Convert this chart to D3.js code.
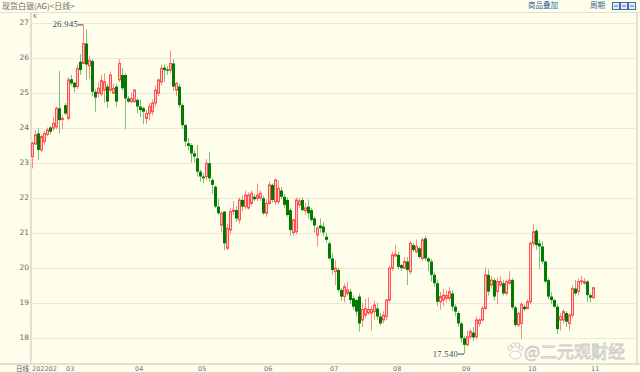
<!DOCTYPE html>
<html><head><meta charset="utf-8">
<script src="https://cdn.jsdelivr.net/npm/d3@7"></script>
<style>
html,body{margin:0;padding:0;background:#fefeea;}
svg{display:block;}
</style></head>
<body>
<svg id="chart" width="640" height="372"></svg>
<script>
// ---- data ----
const openVals = [23.17,23.53,23.83,23.36,23.6,23.8,24.0,23.98,24.02,24.55,24.24,24.64,24.26,25.38,25.28,25.17,25.88,25.83,26.4,25.76,
25.9,25.02,24.98,24.96,25.07,25.17,25.07,24.98,25.17,25.36,25.5,25.5,24.83,24.74,24.74,24.79,24.6,24.55,24.26,24.4,
24.45,24.7,24.98,25.3,25.71,25.66,25.64,25.83,25.07,25.17,24.64,24.07,23.55,23.5,23.26,23.12,22.74,22.6,22.6,22.98,
22.5,22.31,21.74,21.21,21.6,20.55,21.07,21.6,21.64,21.36,21.93,21.74,21.7,21.83,22.02,21.98,21.98,21.98,21.55,21.83,
22.36,21.88,21.88,22.2,22.02,21.93,21.64,21.0,21.02,21.79,21.93,21.62,21.74,21.64,21.4,20.93,21.2,21.17,20.88,20.69,
20.26,19.88,19.93,19.36,19.17,19.26,19.31,19.12,19.07,19.17,18.5,18.64,18.7,18.7,18.74,18.83,18.6,18.5,18.6,19.07,
19.98,20.33,20.36,20.07,19.98,20.17,19.88,20.64,20.45,20.55,20.26,20.83,20.26,20.17,19.79,19.55,19.02,19.07,19.12,19.12,
19.26,18.88,18.7,18.4,17.98,17.79,18.02,18.14,18.02,18.4,18.5,18.83,19.79,19.5,19.64,19.31,19.5,19.55,19.26,19.55,
19.64,18.86,18.36,18.4,18.88,18.83,19.02,20.69,21.05,20.69,20.6,20.17,19.64,19.17,19.07,18.88,18.5,18.5,18.7,18.4,
18.64,19.4,19.31,19.6,19.55,19.6,19.21,19.14];
const highVals = [23.6,23.93,23.98,23.8,23.9,24.0,24.05,24.3,24.6,25.62,24.35,24.7,25.45,25.5,25.3,25.8,26.1,26.945,26.8,26.05,
25.95,25.1,25.3,25.5,25.55,25.25,25.6,25.25,25.25,25.95,25.7,25.55,24.9,25.0,25.1,24.85,24.8,24.6,24.5,24.7,
24.8,25.2,25.4,25.8,25.8,25.75,26.2,25.95,25.3,25.25,24.7,24.1,23.7,23.55,23.35,23.5,22.8,22.7,23.1,23.3,
22.55,22.35,21.97,21.6,21.6,21.25,21.7,21.9,21.75,22.0,22.05,22.2,22.15,22.2,22.1,22.4,22.2,22.05,21.95,22.45,
22.4,22.55,22.5,22.3,22.1,22.0,21.7,21.4,22.0,22.0,22.0,21.85,21.95,21.7,21.45,21.2,21.4,21.3,21.0,20.75,
20.4,20.2,20.0,19.4,19.55,19.6,19.4,19.2,19.1,19.25,19.0,19.1,19.15,18.9,19.05,19.0,18.7,18.75,19.1,20.05,
20.45,20.65,20.45,20.1,20.3,20.3,20.75,20.7,20.8,20.6,20.85,20.9,20.3,20.25,19.85,19.65,19.3,19.4,19.35,19.45,
19.35,18.95,18.75,18.45,18.05,18.2,18.25,18.3,18.6,18.55,18.9,20.0,19.95,19.75,19.7,19.7,19.75,19.65,19.65,19.9,
19.7,18.9,18.75,19.0,18.95,19.1,20.75,21.24,21.1,20.8,20.75,20.2,19.7,19.3,19.1,18.95,18.7,18.8,18.75,18.7,
19.5,19.65,19.7,19.77,19.7,19.65,19.25,19.45];
const lowVals = [22.83,23.5,23.07,23.3,23.5,23.75,23.8,23.9,23.95,23.83,23.95,24.35,24.2,25.2,25.0,25.1,25.5,25.8,25.35,25.4,
24.9,24.45,24.85,24.9,24.7,24.55,25.0,24.95,24.6,25.3,25.05,23.95,24.7,24.7,24.7,24.4,24.3,24.1,24.1,24.2,
24.35,24.6,24.9,25.2,25.3,25.5,25.55,25.05,24.9,24.55,23.95,23.45,23.35,23.0,23.0,22.6,22.45,22.4,22.5,22.45,
22.1,21.7,21.5,21.0,20.5,20.5,20.95,21.5,21.3,21.25,21.6,21.65,21.65,21.75,21.9,21.9,21.9,21.5,21.45,21.8,
21.85,21.8,21.8,21.95,21.7,21.45,20.9,20.9,20.95,21.7,21.6,21.5,21.4,21.3,21.0,20.6,21.0,20.9,20.7,20.2,
19.8,19.5,19.3,19.05,19.0,19.2,18.95,18.8,18.6,18.17,18.3,18.55,18.65,18.2,18.5,18.5,18.35,18.4,18.5,19.0,
19.9,20.3,19.95,19.9,19.95,19.5,19.8,20.45,20.4,20.25,20.2,20.2,19.9,19.6,19.45,18.9,18.8,18.9,19.0,19.05,
18.75,18.6,18.3,17.85,17.54,17.75,17.95,17.9,17.95,18.3,18.45,18.8,19.2,19.4,19.05,18.95,19.45,19.2,19.2,19.5,
18.8,18.3,18.3,17.95,18.75,18.8,18.95,20.6,20.5,19.95,20.1,19.55,19.1,18.95,18.85,18.1,18.2,18.4,18.3,18.2,
18.55,19.2,19.2,19.5,19.5,19.0,19.0,19.1];
const closeVals = [23.55,23.79,23.36,23.74,23.83,23.93,23.88,24.12,24.55,24.21,24.26,24.4,25.36,25.26,25.15,25.69,25.64,26.4,25.8,25.92,
25.02,24.86,25.12,25.34,25.31,24.74,25.5,25.12,24.74,25.83,25.12,24.83,24.74,24.83,25.07,24.6,24.5,24.45,24.4,24.6,
24.7,25.07,25.36,25.69,25.64,25.62,25.83,25.17,25.26,24.64,24.07,23.6,23.47,23.26,23.17,22.74,22.6,22.55,22.98,22.55,
22.36,21.74,21.55,21.55,20.69,21.12,21.6,21.64,21.4,21.93,21.74,22.07,22.07,22.12,21.95,22.07,22.12,21.55,21.83,22.36,
21.93,22.5,22.26,22.02,21.79,21.5,21.07,21.36,21.93,21.9,21.64,21.7,21.55,21.36,21.2,21.12,21.12,21.0,20.79,20.26,
19.93,19.98,19.36,19.17,19.45,19.36,19.07,18.88,18.74,18.4,18.8,18.83,18.8,18.8,18.93,18.6,18.4,18.64,19.07,19.98,
20.36,20.38,20.02,19.98,20.17,19.93,20.69,20.5,20.6,20.3,20.79,20.26,20.17,19.79,19.55,19.02,19.17,19.21,19.2,19.31,
18.88,18.74,18.4,17.98,17.79,18.02,18.17,18.0,18.5,18.5,18.83,19.79,19.31,19.64,19.17,19.6,19.6,19.26,19.6,19.64,
18.86,18.36,18.69,18.95,18.81,19.02,20.69,21.02,20.64,20.6,20.17,19.6,19.17,19.07,18.88,18.24,18.6,18.74,18.45,18.64,
19.4,19.26,19.6,19.62,19.6,19.21,19.14,19.42];
const monthLabels = ["202202","03","04","05","06","07","08","09","10","11"];
const monthStartIdx = [0,12,35,56,78,100,121,144,166,187];
const yTicks = [18,19,20,21,22,23,24,25,26,27];
const maxLabel = "26.945", minLabel = "17.540";

// ---- drawing ----
const svg = d3.select("#chart");
const W = 640, H = 372;
const N = closeVals.length;
const candles = d3.range(N).map(i => ({i, o: openVals[i], h: highVals[i], l: lowVals[i], c: closeVals[i]}));

const x = d3.scalePoint().domain(d3.range(N)).range([32, 593]);
const y = d3.scaleLinear().domain([18, 27]).range([337.5, 22.5]);

svg.append("rect").attr("width", W).attr("height", H).attr("fill", "#fefeea");

// frame lines
const frameCol = "#e0e0d4";
svg.append("line").attr("x1",0).attr("x2",W).attr("y1",12.5).attr("y2",12.5).attr("stroke",frameCol);
svg.append("line").attr("x1",31).attr("x2",31).attr("y1",12).attr("y2",364).attr("stroke",frameCol).attr("stroke-width",2);
svg.append("line").attr("x1",0).attr("x2",W).attr("y1",364).attr("y2",364).attr("stroke",frameCol).attr("stroke-width",2);
svg.append("line").attr("x1",637).attr("x2",637).attr("y1",12).attr("y2",364).attr("stroke",frameCol).attr("stroke-width",2);

// grid
svg.append("g").selectAll("line").data(yTicks).join("line")
  .attr("x1", 32).attr("x2", 636)
  .attr("y1", d => Math.round(y(d)) + 0.5).attr("y2", d => Math.round(y(d)) + 0.5)
  .attr("stroke", "#ebe9d9");

// y axis labels
const yAxis = d3.axisLeft(y).tickValues(yTicks).tickSize(0).tickPadding(0).tickFormat(d3.format("d"));
const ga = svg.append("g").attr("transform","translate(29,0)").call(yAxis);
ga.select(".domain").remove();
ga.selectAll("text").attr("font-family","DejaVu Sans, sans-serif").attr("font-size",7.5).attr("fill","#6a6a6a");

// x axis labels
const xg = svg.append("g").attr("font-family","DejaVu Sans, sans-serif").attr("font-size",6.5).attr("fill","#707070");
xg.selectAll("text").data(monthStartIdx).join("text")
  .attr("x", (d,k) => x(d) - (k === 0 ? 0 : 2))
  .attr("y", 371)
  .text((d,k) => monthLabels[k]);
svg.append("text").attr("x",16).attr("y",371).attr("font-family","Noto Sans CJK SC").attr("font-size",6.5).attr("fill","#555").text("日线");

// title & top-right controls
svg.append("text").attr("x",2).attr("y",9).attr("font-family","Noto Sans CJK SC").attr("font-size",8).attr("fill","#6a6a6a").text("现货白银(AG)<日线>");
svg.append("text").attr("x",33).attr("y",18).attr("font-family","DejaVu Sans").attr("font-size",6).attr("fill","#777").text("K");
svg.append("text").attr("x",528).attr("y",8).attr("font-family","Noto Sans CJK SC").attr("font-size",7.5).attr("fill","#2f5f9a").text("商品叠加");
svg.append("text").attr("x",590).attr("y",8).attr("font-family","Noto Sans CJK SC").attr("font-size",7.5).attr("fill","#2f5f9a").text("周期");
[612,620,628].forEach((bx,k) => {
  svg.append("rect").attr("x",bx+0.5).attr("y",2.5).attr("width",7).attr("height",7).attr("fill","#e8f0fa").attr("stroke","#3f6ea8");
  svg.append("line").attr("x1",bx+2).attr("x2",bx+6).attr("y1",6).attr("y2",6).attr("stroke","#3f6ea8");
});

// candles
const up = d => d.c >= d.o;
const g = svg.append("g");
g.selectAll("line.wick").data(candles).join("line")
  .attr("class","wick")
  .attr("x1", d => x(d.i) + 0.5).attr("x2", d => x(d.i) + 0.5)
  .attr("y1", d => y(Math.max(d.h, d.o, d.c))).attr("y2", d => y(Math.min(d.l, d.o, d.c)))
  .attr("stroke", d => up(d) ? "#ff8a8a" : "#7cc27c").attr("stroke-width", 1);
g.selectAll("rect.body").data(candles).join("rect")
  .attr("class","body")
  .attr("x", d => up(d) ? x(d.i) - 0.5 : x(d.i) - 1)
  .attr("width", d => up(d) ? 2 : 3)
  .attr("y", d => y(Math.max(d.o, d.c)))
  .attr("height", d => Math.max(1, Math.abs(y(d.o) - y(d.c))))
  .attr("fill", d => up(d) ? "#ffcccc" : "#007a00")
  .attr("stroke", d => up(d) ? "#ff5050" : "none")
  .attr("stroke-width", 1);

// max / min annotations
const iMax = d3.maxIndex(highVals), iMin = d3.minIndex(lowVals);
const ann = svg.append("g").attr("font-family","Liberation Serif, serif").attr("font-size",8.5).attr("fill","#34465f");
const yMax = y(highVals[iMax]);
ann.append("text").attr("x", x(iMax) - 5).attr("y", yMax + 3).attr("text-anchor","end").attr("letter-spacing",0.3).text(maxLabel);
ann.append("line").attr("x1", x(iMax) - 5).attr("x2", x(iMax)).attr("y1", yMax + 0.5).attr("y2", yMax + 0.5).attr("stroke","#34465f");
const yMin = y(lowVals[iMin]);
ann.append("text").attr("x", x(iMin) - 6).attr("y", yMin + 3).attr("text-anchor","end").attr("letter-spacing",0.3).text(minLabel);
ann.append("line").attr("x1", x(iMin) - 6).attr("x2", x(iMin)).attr("y1", yMin + 0.5).attr("y2", yMin + 0.5).attr("stroke","#34465f");

// watermark
const wm = svg.append("g").attr("opacity",0.9);
const px = 515, py = 352;
[[-5,-4,2.2],[-1.5,-7,2.2],[2.5,-7,2.2],[6,-4,2.2]].forEach(([dx,dy,r]) =>
  wm.append("circle").attr("cx",px+dx).attr("cy",py+dy).attr("r",r).attr("fill","#fff").attr("stroke","#c8c8c8"));
wm.append("ellipse").attr("cx",px+0.5).attr("cy",py+3).attr("rx",5.5).attr("ry",4).attr("fill","#fff").attr("stroke","#c8c8c8");
wm.append("text").attr("x",524).attr("y",358).attr("font-family","Noto Sans CJK SC").attr("font-size",17)
  .attr("fill","#ffffff").attr("stroke","#c4c4c4").attr("stroke-width",0.8).text("@二元观财经");
</script>
</body></html>
